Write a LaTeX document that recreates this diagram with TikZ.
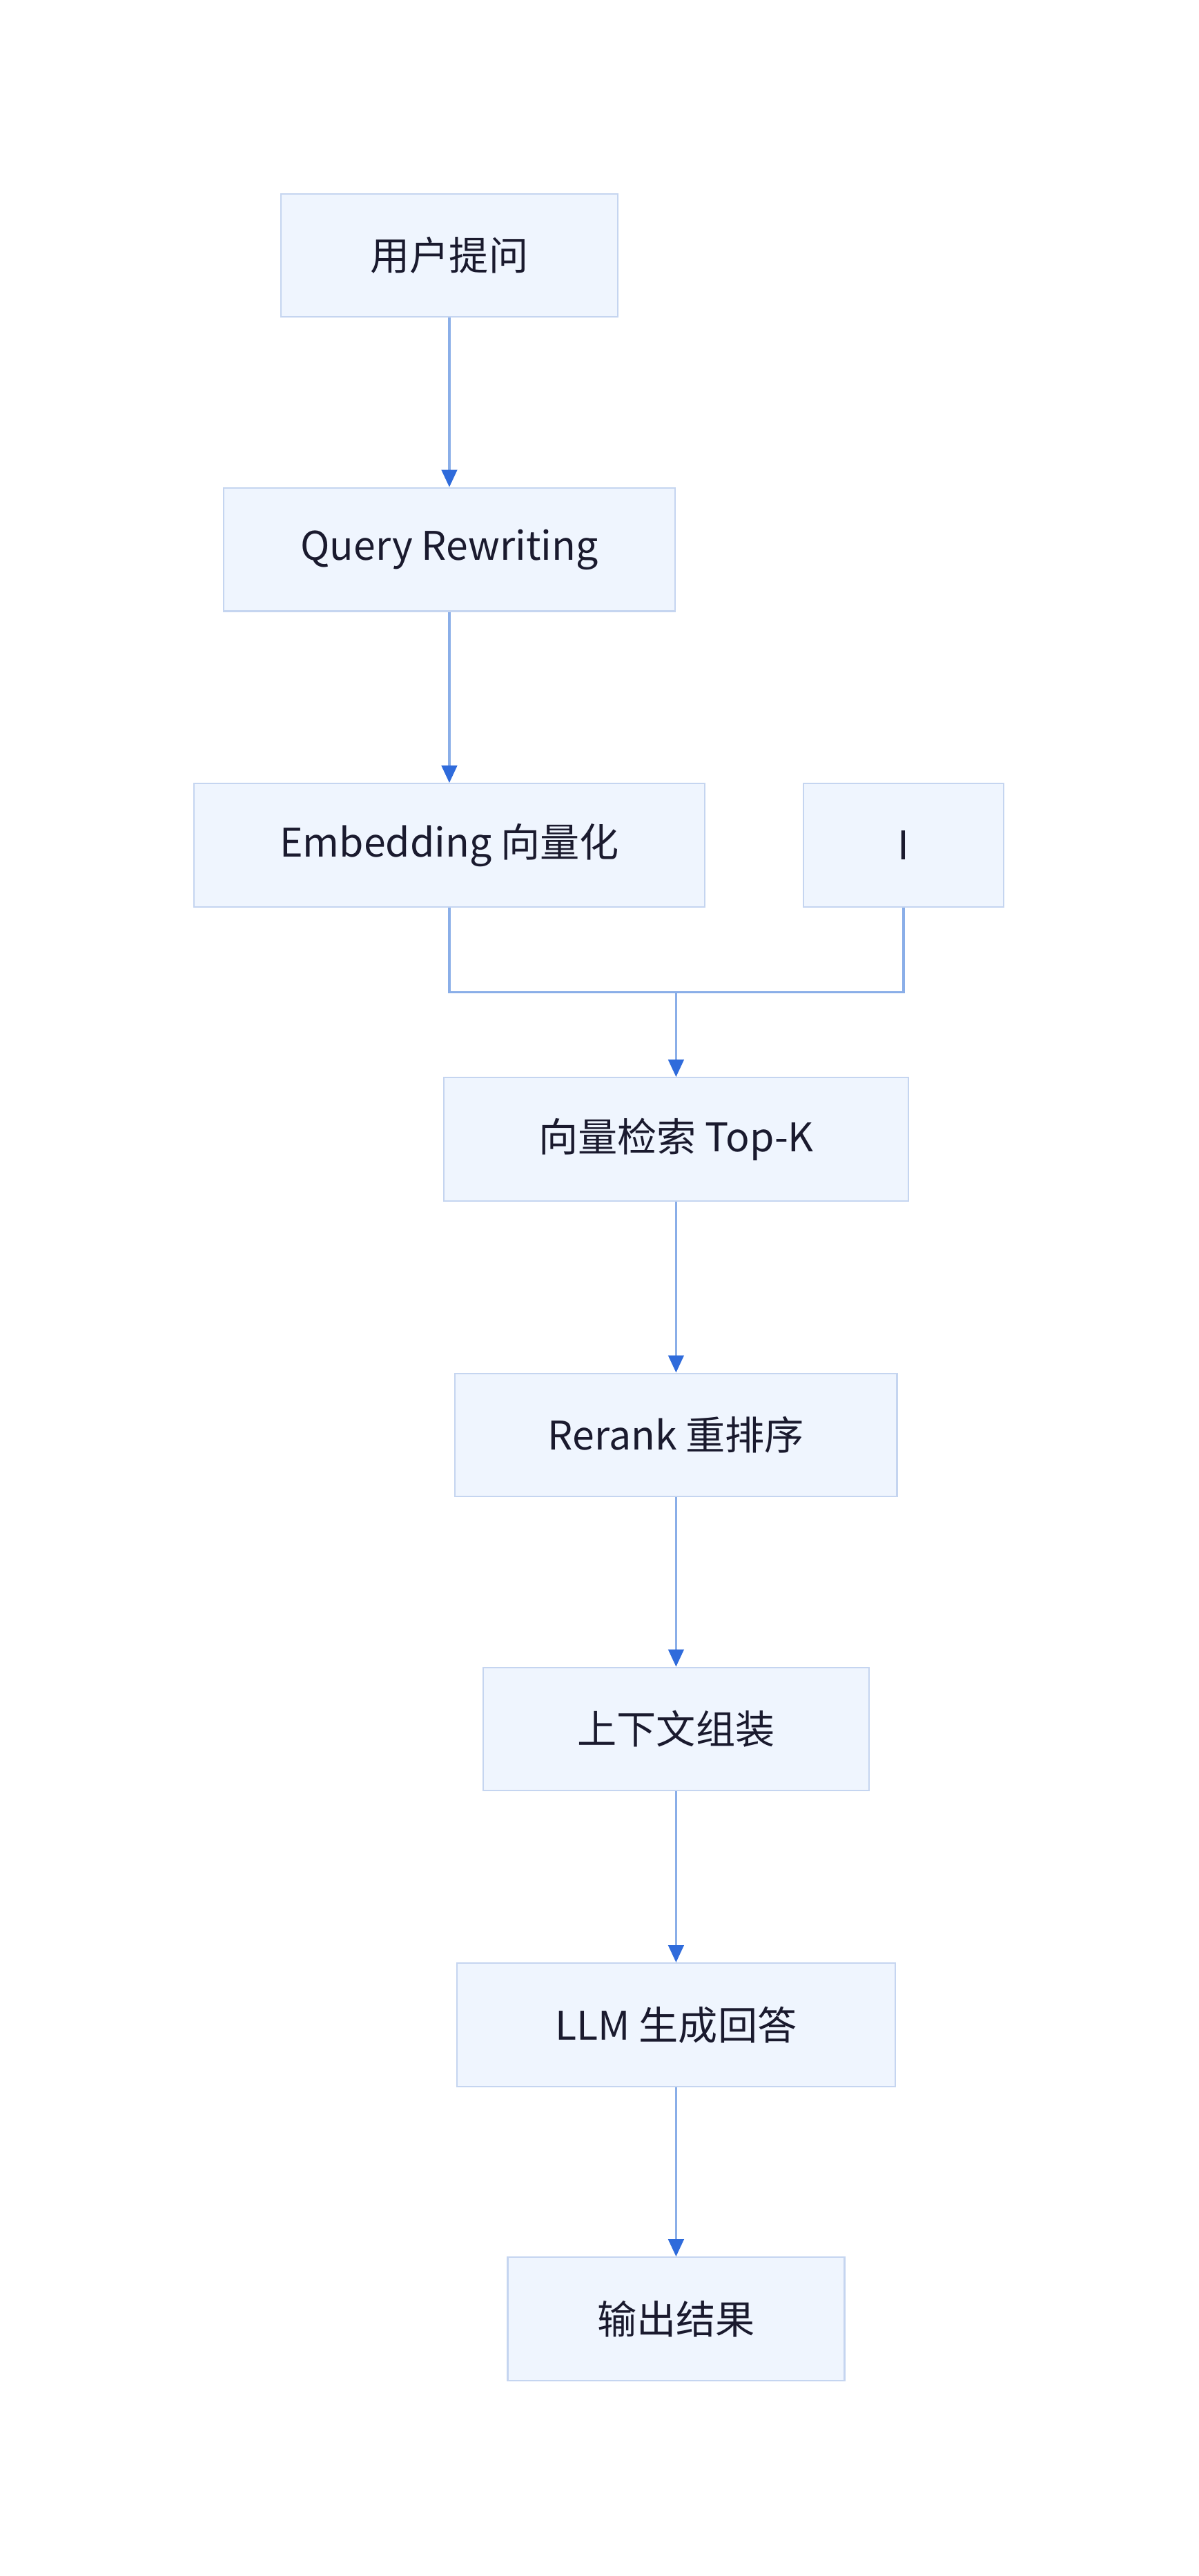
\documentclass[tikz,border=0pt]{standalone}
\usepackage{fontspec}
\setmainfont{Noto Sans}
\newfontfamily\cjk{Noto Sans CJK SC}
\usetikzlibrary{arrows.meta}
\definecolor{boxfill}{HTML}{EFF5FE}
\definecolor{boxline}{HTML}{C5D5F0}
\definecolor{linkblue}{HTML}{8AAEE8}
\definecolor{tipblue}{HTML}{2F6BDB}
\definecolor{inkdark}{HTML}{1A1A2E}

\begin{document}
\begin{tikzpicture}[x=0.03cm,y=-0.03cm,
  stage/.style={draw=boxline, fill=boxfill, line width=0.8pt, minimum height=2.25cm,
    inner sep=0pt, text=inkdark, font=\cjk\fontsize{20.5}{24}\selectfont},
  link/.style={draw=linkblue, line width=1.3pt},
  flow/.style={link, -{Triangle[length=9pt,width=8pt,color=tipblue]}}]

\useasboundingbox (0,0) rectangle (729.4,1568);

\node[stage, minimum width=6.15cm] (ask) at (273.5,155.5) {用户提问};
\node[stage, minimum width=8.25cm] (rewrite) at (273.5,334.5) {Query Rewriting};
\node[stage, minimum width=9.33cm] (embed) at (273.5,514.5) {Embedding 向量化};
\node[stage, minimum width=3.66cm] (extra) at (550,514.5) {I};
\node[stage, minimum width=8.49cm] (search) at (411.5,693.5) {向量检索 Top-K};
\node[stage, minimum width=8.07cm] (rerank) at (411.5,873.5) {Rerank 重排序};
\node[stage, minimum width=7.05cm] (context) at (411.5,1052.5) {上下文组装};
\node[stage, minimum width=8.01cm] (answer) at (411.5,1232.5) {LLM 生成回答};
\node[stage, minimum width=6.15cm] (result) at (411.5,1411.5) {输出结果};

\coordinate (join) at (411.5,604);

\draw[flow] (ask) -- (rewrite);
\draw[flow] (rewrite) -- (embed);
\draw[link] (embed.south) |- (join);
\draw[link] (extra.south) |- (join);
\draw[flow] (join) -- (search);
\draw[flow] (search) -- (rerank);
\draw[flow] (rerank) -- (context);
\draw[flow] (context) -- (answer);
\draw[flow] (answer) -- (result);

\end{tikzpicture}
\end{document}
